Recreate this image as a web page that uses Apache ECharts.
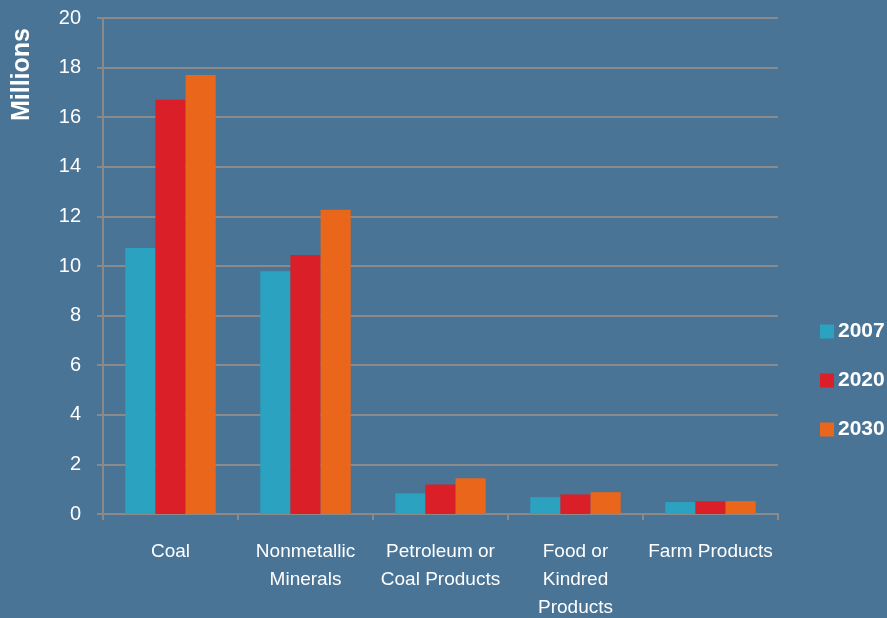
<!DOCTYPE html>
<html><head><meta charset="utf-8">
<script src="https://cdn.jsdelivr.net/npm/echarts@6/dist/echarts.min.js"></script>
<style>html,body{margin:0;padding:0;background:#497496;overflow:hidden;}#c{width:887px;height:618px;}</style>
</head><body><div id="c"></div>
<script>
const categories = ['Coal', 'Nonmetallic\nMinerals', 'Petroleum or\nCoal Products', 'Food or\nKindred\nProducts', 'Farm Products'];
const seriesNames = ['2007', '2020', '2030'];
const values2007 = [10.73, 9.79, 0.83, 0.68, 0.48];
const values2020 = [16.7, 10.44, 1.19, 0.79, 0.51];
const values2030 = [17.7, 12.27, 1.44, 0.88, 0.52];
const yTicks = [0, 2, 4, 6, 8, 10, 12, 14, 16, 18, 20];
const colors = ['#2CA2C1', '#DA1F28', '#E9661B'];
const font = '"Liberation Sans Narrow", "Liberation Sans", Arial, sans-serif';
const chart = echarts.init(document.getElementById('c'));
const data = [values2007, values2020, values2030];
chart.setOption({
  backgroundColor: '#497496',
  animation: false,
  grid: {left: 103, right: 109, top: 18, bottom: 104, containLabel: false, outerBoundsMode: 'none'},
  legend: {
    orient: 'vertical', left: 815, top: 316, itemGap: 28,
    itemWidth: 14, itemHeight: 14, icon: 'rect',
    textStyle: {color: '#ffffff', fontFamily: font, fontSize: 21, fontWeight: 'bold', padding: [0,0,0,-1]},
    data: seriesNames
  },
  xAxis: {
    type: 'category', data: categories,
    axisLine: {lineStyle: {color: '#8a8a8a', width: 2}},
    axisTick: {show: true, length: 6, lineStyle: {color: '#8a8a8a', width: 2}},
    axisLabel: {color: '#ffffff', fontFamily: font, fontSize: 19, margin: 24, lineHeight: 28, interval: 0}
  },
  yAxis: {
    type: 'value', min: yTicks[0], max: yTicks[yTicks.length-1], interval: 2,
    axisLine: {show: true, lineStyle: {color: '#8a8a8a', width: 2}},
    axisTick: {show: true, length: 6, lineStyle: {color: '#8a8a8a', width: 2}},
    splitLine: {lineStyle: {color: '#8a8a8a', width: 2}},
    axisLabel: {color: '#ffffff', fontFamily: font, fontSize: 20, margin: 22}
  },
  graphic: [{type: 'text', left: 10, top: 28, rotation: Math.PI/2,
    style: {text: 'Millions', fill: '#fff', font: 'bold 25px "Liberation Sans", Arial, sans-serif'}}],
  series: seriesNames.map((n, i) => ({
    name: n, type: 'bar', data: data[i], barGap: '0%', barCategoryGap: '33%',
    itemStyle: {color: colors[i]}
  }))
});
</script></body></html>
